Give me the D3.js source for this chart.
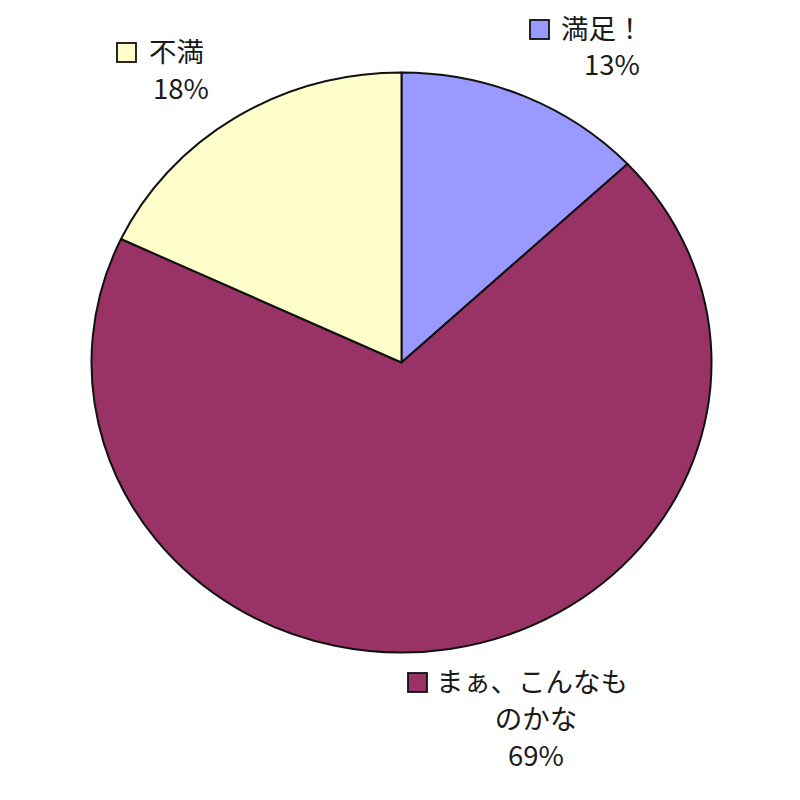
<!DOCTYPE html>
<html>
<head>
<meta charset="utf-8">
<script src="https://cdn.jsdelivr.net/npm/d3@7/dist/d3.min.js"></script>
<style>
  html, body { margin: 0; padding: 0; background: #fff; }
  svg { display: block; }
  text { font-family: "Noto Sans CJK JP", "Noto Sans", sans-serif; fill: #1a1a1a; }
</style>
</head>
<body>
<svg id="chart" width="800" height="800"></svg>
<script>
// ---- data ----
const categories = ["満足！", "まぁ、こんなものかな", "不満"];
const labelLines = [["満足！"], ["まぁ、こんなも", "のかな"], ["不満"]];
const values = [13, 69, 18];
const colors = ["#9999FF", "#993366", "#FFFFCC"];

// ---- layout (positions only) ----
const cx = 401.5, cy = 362.5, rx = 310, ry = 290;
const labelLayout = [
  { key: [530, 20], first: [561, 39], center: 612, lineH: 36 },
  { key: [408, 673], first: [436, 692], center: 536, lineH: 37 },
  { key: [117, 43], first: [149, 62], center: 181, lineH: 37 }
];
const fontSize = 27.5;

const svg = d3.select("#chart");
const data = categories.map((c, i) => ({ cat: c, value: values[i], color: colors[i], lines: labelLines[i], lay: labelLayout[i] }));

const pie = d3.pie().value(d => d.value).sort(null);
const R = 300;
const arc = d3.arc().innerRadius(0).outerRadius(R);

const g = svg.append("g")
  .attr("transform", `translate(${cx},${cy}) scale(${rx / R},${ry / R})`);

g.selectAll("path")
  .data(pie(data))
  .join("path")
  .attr("d", arc)
  .attr("fill", d => d.data.color)
  .attr("stroke", "#111")
  .attr("stroke-width", 2)
  .attr("stroke-linejoin", "round")
  .attr("vector-effect", "non-scaling-stroke");

// ---- labels ----
const labels = svg.append("g").selectAll("g")
  .data(pie(data))
  .join("g");

labels.append("rect")
  .attr("x", d => d.data.lay.key[0])
  .attr("y", d => d.data.lay.key[1])
  .attr("width", 19)
  .attr("height", 19)
  .attr("fill", d => d.data.color)
  .attr("stroke", "#111")
  .attr("stroke-width", 1.8);

labels.each(function (d) {
  const sel = d3.select(this);
  const lay = d.data.lay;
  d.data.lines.forEach((t, i) => {
    if (i === 0) {
      sel.append("text")
        .attr("x", lay.first[0])
        .attr("y", lay.first[1])
        .attr("font-size", fontSize)
        .attr("text-anchor", "start")
        .text(t);
    } else {
      sel.append("text")
        .attr("x", lay.center)
        .attr("y", lay.first[1] + lay.lineH * i)
        .attr("font-size", fontSize)
        .attr("text-anchor", "middle")
        .text(t);
    }
  });
  sel.append("text")
    .attr("x", lay.center)
    .attr("y", lay.first[1] + lay.lineH * d.data.lines.length)
    .attr("font-size", fontSize)
    .attr("text-anchor", "middle")
    .text(d.data.value + "%");
});
</script>
</body>
</html>
